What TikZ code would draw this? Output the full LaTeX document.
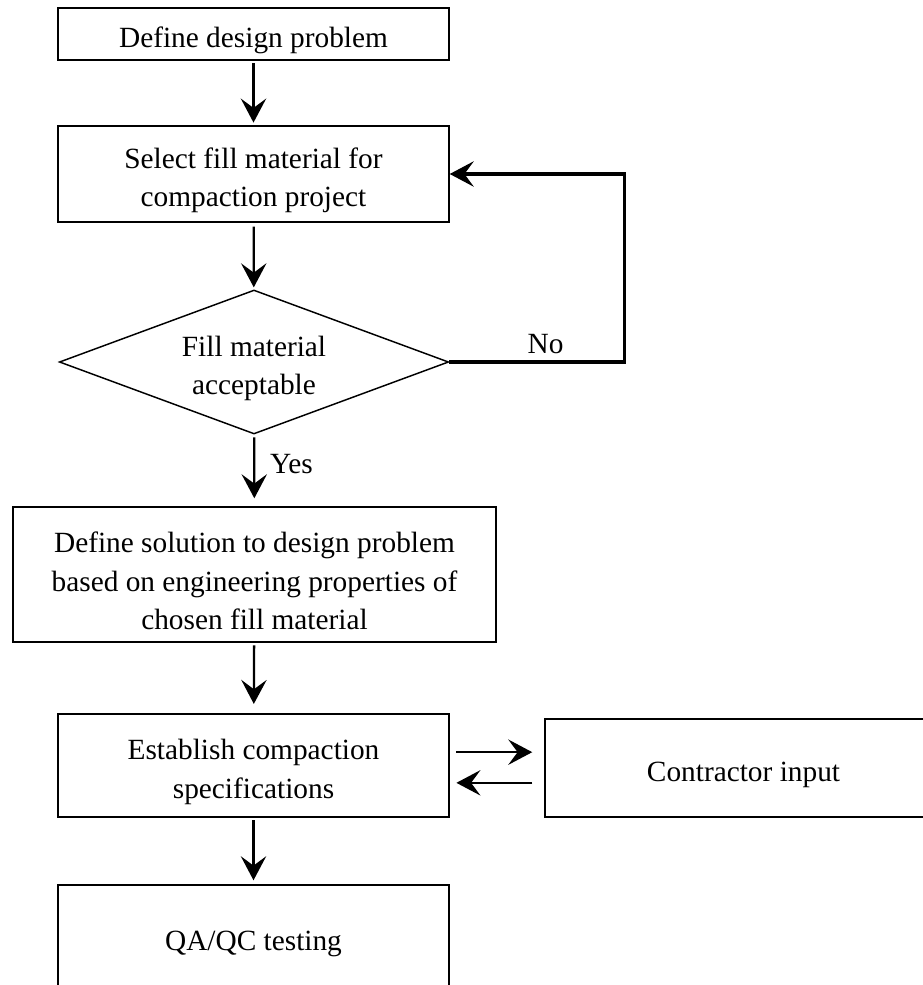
\documentclass[tikz,border=0pt]{standalone}
\usepackage{fontspec}
\setmainfont{Liberation Serif}
\usetikzlibrary{arrows.meta}
\usetikzlibrary{shapes.geometric}
\newcommand{\lift}{\rule{0pt}{25pt}}

\begin{document}
\begin{tikzpicture}[x=0.75pt,y=-0.75pt,
			every node/.style={font=\fontsize{22}{29}\selectfont,align=center},
			box/.style={draw,line width=1.1pt,inner sep=0pt,minimum width=293.25pt},
			decision/.style={draw,diamond,line width=1.1pt,inner sep=0pt,aspect=2.7,
				minimum width=292pt,minimum height=108pt},
			arr/.style={-{Stealth[length=18pt,width=19pt,inset=7pt]},line width=1.7pt}]
			\useasboundingbox (0,0) rectangle (922,985);
			
			\node[box,minimum height=39pt] (define) at (253.5,34) {\lift Define design problem};
			\node[box,minimum height=72pt] (select) at (253.5,174) {\lift Select fill material for\\compaction project};
			\node[decision] (accept) at (254,362) {\lift Fill material\\acceptable};
			\node[box,minimum width=362.25pt,minimum height=101.25pt] (solution) at (254.5,574.5)
				{\lift Define solution to design problem\\based on engineering properties of\\chosen fill material};
			\node[box,minimum height=77.25pt] (specs) at (253.5,765.5) {\lift Establish compaction\\specifications};
			\node[box,minimum width=297.75pt,minimum height=73.5pt] (contractor) at (743.5,768) {\lift Contractor input};
			\node[box,minimum height=78pt] (testing) at (253.5,937) {\lift QA/QC testing};
			
			\draw[arr,shorten <=2pt,shorten >=2pt] (define) -- (select);
			\draw[arr,shorten <=3pt,shorten >=1.5pt] (select) -- (accept);
			\draw[arr,shorten <=2pt,shorten >=6pt] (accept) -- node[right,pos=0.41,xshift=11pt,inner sep=0pt] {Yes} (solution);
			\draw[arr,shorten <=2pt,shorten >=7pt] (solution) -- (specs);
			\draw[arr,shorten <=2pt,shorten >=3pt] (specs) -- (testing);
			
			% loop back when the fill is rejected
			\draw[arr,line width=2.5pt] (accept.east) -- node[above,pos=0.55,yshift=5pt,inner sep=0pt] {No} ++(175,0) |- (select.east);
			
			\coordinate (togo) at ([yshift=10pt]specs.east);
			\coordinate (back) at ([yshift=-13pt]specs.east);
			\draw[arr,shorten <=5pt,shorten >=9pt] (togo) -- (togo -| contractor.west);
			\draw[arr,shorten <=9pt,shorten >=5pt] (back -| contractor.west) -- (back);
		\end{tikzpicture}
\end{document}
